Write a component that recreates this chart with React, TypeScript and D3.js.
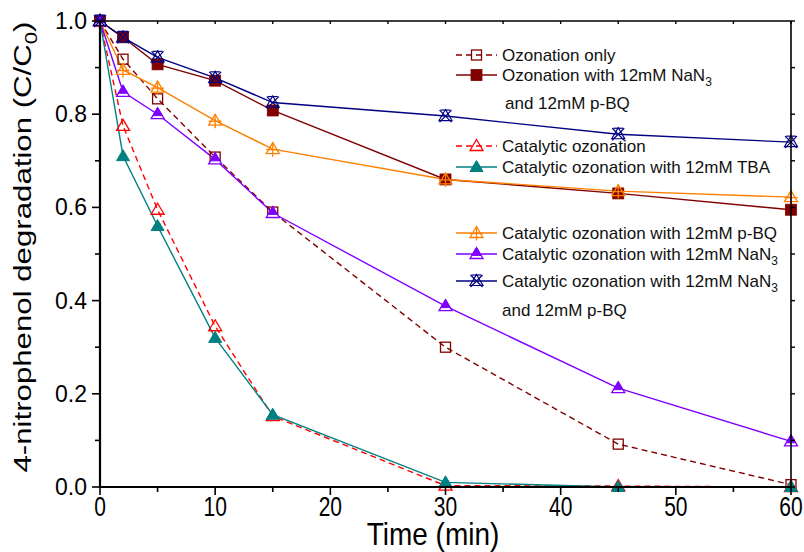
import React from 'react';
import * as d3 from 'd3';

// time points (min)
const times = [0, 2, 5, 10, 15, 30, 45, 60];

// C/C0 for each run
const ozonationOnly = [1.0, 0.918, 0.833, 0.708, 0.59, 0.3, 0.092, 0.005];
const ozonationNaN3BQ = [1.0, 0.965, 0.907, 0.872, 0.808, 0.66, 0.63, 0.595];
const catalytic = [1.0, 0.775, 0.595, 0.345, 0.152, 0.003, 0.002, 0.0];
const catalyticTBA = [1.0, 0.71, 0.56, 0.32, 0.155, 0.01, 0.0, 0.0];
const catalyticBQ = [1.0, 0.895, 0.857, 0.786, 0.725, 0.66, 0.635, 0.622];
const catalyticNaN3 = [1.0, 0.848, 0.8, 0.703, 0.588, 0.388, 0.212, 0.098];
const catalyticNaN3BQ = [1.0, 0.965, 0.922, 0.878, 0.825, 0.796, 0.757, 0.74];

const xTicks = [0, 10, 20, 30, 40, 50, 60];
const yTicks = [0, 0.2, 0.4, 0.6, 0.8, 1.0];

const series = [
  { name: 'Ozonation only', values: ozonationOnly, color: '#800000', dash: '6,4', marker: 'sqOpen' },
  { name: 'Ozonation with 12mM NaN', sub: '3', extra: 'and 12mM p-BQ', values: ozonationNaN3BQ, color: '#800000', dash: null, marker: 'sqFill' },
  { name: 'Catalytic ozonation', values: catalytic, color: '#ff0000', dash: '6,4', marker: 'triOpen' },
  { name: 'Catalytic ozonation with 12mM TBA', values: catalyticTBA, color: '#008080', dash: null, marker: 'triFill' },
  { name: 'Catalytic ozonation with 12mM p-BQ', values: catalyticBQ, color: '#ff8000', dash: null, marker: 'triPlus' },
  { name: 'Catalytic ozonation with 12mM NaN', sub: '3', values: catalyticNaN3, color: '#8000ff', dash: null, marker: 'triHalf' },
  { name: 'Catalytic ozonation with 12mM NaN', sub: '3', extra: 'and 12mM p-BQ', values: catalyticNaN3BQ, color: '#000080', dash: null, marker: 'xTri' },
];

// legend rows (centre y) for each series, and for the wrapped second lines
const legendRows = [55, 75, 146, 167, 233, 254, 281];
const extraRows = [null, 103, null, null, null, null, 310];

const font = 'Arial, "Liberation Sans", sans-serif';

function Marker({ kind, x, y, color }: { kind: string; x: number; y: number; color: string }) {
  const s = 5.5;
  const tw = 6.5, ta = 6.5, tb = 4.5;
  const tri = `M${x},${y - ta}L${x + tw},${y + tb}L${x - tw},${y + tb}Z`;
  if (kind === 'sqOpen')
    return <rect x={x - s + 0.5} y={y - s + 0.5} width={2 * s - 1} height={2 * s - 1} fill="none" stroke={color} strokeWidth={1.3} />;
  if (kind === 'sqFill')
    return <rect x={x - s} y={y - s} width={2 * s} height={2 * s} fill={color} stroke={color} strokeWidth={0.8} />;
  if (kind === 'triOpen') return <path d={tri} fill="none" stroke={color} strokeWidth={1.3} />;
  if (kind === 'triFill') return <path d={tri} fill={color} stroke={color} strokeWidth={1} />;
  if (kind === 'triPlus')
    return (
      <g stroke={color} strokeWidth={1.3} fill="none">
        <path d={tri} />
        <line x1={x} y1={y - ta} x2={x} y2={y + tb + 3} />
        <line x1={x - tw} y1={y + 0.5} x2={x + tw} y2={y + 0.5} />
      </g>
    );
  if (kind === 'triHalf') {
    const k = 0.72;
    const h = ta + tb;
    const yb = y - ta + h * k;
    return (
      <g>
        <path d={tri} fill="#fff" stroke={color} strokeWidth={1.3} />
        <path d={`M${x},${y - ta}L${x + tw * k},${yb}L${x - tw * k},${yb}Z`} fill={color} stroke={color} strokeWidth={1} />
      </g>
    );
  }
  // xTri: cross over an open triangle
  return (
    <g stroke={color} strokeWidth={1.2} fill="none">
      <path d={tri} />
      <line x1={x - 6} y1={y - 6} x2={x + 6} y2={y + 6} />
      <line x1={x + 6} y1={y - 6} x2={x - 6} y2={y + 6} />
      <line x1={x - 5} y1={y - 6} x2={x + 5} y2={y - 6} />
    </g>
  );
}

export default function App() {
  const width = 804, height = 552;
  const x = d3.scaleLinear().domain([0, 60]).range([100, 791]);
  const y = d3.scaleLinear().domain([0, 1]).range([487, 21]);
  const line = d3.line<number>().x((_, i) => x(times[i])).y((d) => y(d));
  const minorX = d3.range(0, 61, 5);
  const minorY = d3.range(0, 11).map((d) => d / 10);

  return (
    <svg width={width} height={height} style={{ position: 'absolute', left: 0, top: 0, background: '#fff' }} fontFamily={font}>
      <rect width={width} height={height} fill="#fff" />

      {/* series lines */}
      {series.map((s, i) => (
        <path key={'l' + i} d={line(s.values) || ''} fill="none" stroke={s.color} strokeWidth={1.4}
          strokeDasharray={s.dash || undefined} />
      ))}
      {series.map((s, i) => (
        <g key={'m' + i}>
          {s.values.map((v, j) => (
            <Marker key={j} kind={s.marker} x={x(times[j])} y={y(v)} color={s.color} />
          ))}
        </g>
      ))}

      {/* frame */}
      <line x1={100} y1={21} x2={791} y2={21} stroke="#000" strokeWidth={1.6} />
      <line x1={791} y1={21} x2={791} y2={487} stroke="#000" strokeWidth={1.6} />
      <line x1={100} y1={20} x2={100} y2={488} stroke="#000" strokeWidth={2.2} />
      <line x1={99} y1={487} x2={792} y2={487} stroke="#000" strokeWidth={2.2} />

      {/* x ticks */}
      {minorX.map((t) => (
        <g key={'xt' + t}>
          <line x1={x(t)} x2={x(t)} y1={487} y2={487 + (t % 10 === 0 ? 8 : 5)} stroke="#000" strokeWidth={1.6} />
          <line x1={x(t)} x2={x(t)} y1={21} y2={24} stroke="#000" strokeWidth={1.4} />
        </g>
      ))}
      {xTicks.map((t) => (
        <text key={'xl' + t} transform={`translate(${x(t)},516) scale(1,1.28)`} textAnchor="middle" fontSize={21}>
          {t}
        </text>
      ))}

      {/* y ticks */}
      {minorY.map((v, i) => (
        <g key={'yt' + i}>
          <line x1={100} x2={100 - (i % 2 === 0 ? 8 : 5)} y1={y(v)} y2={y(v)} stroke="#000" strokeWidth={1.6} />
          <line x1={791} x2={795} y1={y(v)} y2={y(v)} stroke="#000" strokeWidth={1.4} />
        </g>
      ))}
      {yTicks.map((v) => (
        <text key={'yl' + v} x={87} y={y(v) + 8} textAnchor="end" fontSize={23}>
          {v.toFixed(1)}
        </text>
      ))}

      {/* axis titles */}
      <text transform="translate(433,545) scale(1,1.12)" textAnchor="middle" fontSize={28}>Time (min)</text>
      <text transform="translate(31,247) rotate(-90) scale(1.3,1)" textAnchor="middle" fontSize={24}>
        4-nitrophenol degradation (C/C<tspan fontSize={17} dy={6}>0</tspan><tspan dy={-6}>)</tspan>
      </text>

      {/* legend */}
      {series.map((s, i) => {
        const ly = legendRows[i];
        const er = extraRows[i];
        return (
          <g key={'lg' + i}>
            <line x1={456} x2={497} y1={ly} y2={ly} stroke={s.color} strokeWidth={1.4} strokeDasharray={s.dash || undefined} />
            <Marker kind={s.marker} x={476.5} y={ly} color={s.color} />
            <text x={502} y={ly + 6} fontSize={17} fill="#111">
              {s.name}
              {s.sub ? <tspan fontSize={12} dy={5}>{s.sub}</tspan> : null}
            </text>
            {er !== null && s.extra ? (
              <text x={i === 1 ? 505 : 502} y={er + 6} fontSize={17} fill="#111">{s.extra}</text>
            ) : null}
          </g>
        );
      })}
    </svg>
  );
}
